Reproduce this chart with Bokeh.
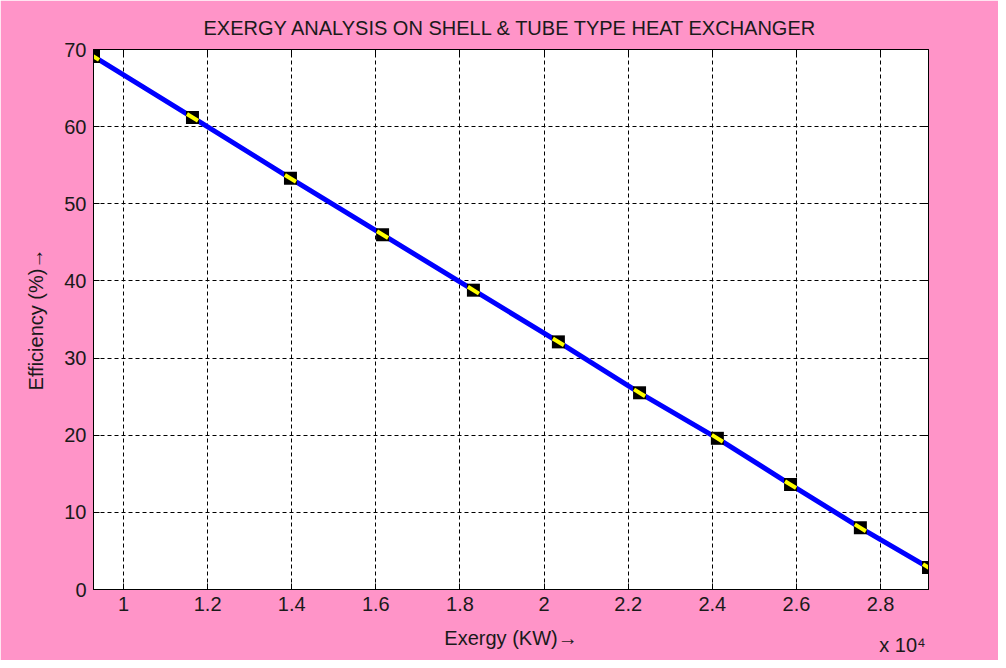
from bokeh.plotting import figure
from bokeh.models import ColumnDataSource, Range1d, LinearAxis, FixedTicker
from bokeh.embed import file_html
from bokeh.resources import INLINE

# Data (Exergy in KW, Efficiency in %)
exergy = [9287, 11640, 13970, 16160, 18320, 20340, 22270, 24120, 25860, 27520, 29140]
efficiency = [69.1, 61.2, 53.3, 46.0, 38.8, 32.1, 25.5, 19.6, 13.6, 8.0, 2.85]
x_ticks = [10000, 12000, 14000, 16000, 18000, 20000, 22000, 24000, 26000, 28000]
x_tick_labels = ["1", "1.2", "1.4", "1.6", "1.8", "2", "2.2", "2.4", "2.6", "2.8"]
y_ticks = [0, 10, 20, 30, 40, 50, 60, 70]
multiplier_pos = [28520]
multiplier_text = ["x 10\u2074"]

PINK = "#ff94c8"
FONT = "Liberation Sans"
TXT = "#1a1a1a"
FS = "20px"

src = ColumnDataSource(dict(x=exergy, y=efficiency))
ends = ColumnDataSource(dict(x=[exergy[0], exergy[-1]], y=[efficiency[0], efficiency[-1]]))

p = figure(width=998, height=660, output_backend="svg", toolbar_location=None,
           x_range=Range1d(exergy[0], exergy[-1]), y_range=Range1d(0, 70),
           background_fill_color="white", border_fill_color=PINK,
           min_border_left=93, min_border_right=70, min_border_top=49, min_border_bottom=71,
           styles={"box-shadow": "-2px -2px 0 0 black"})

p.title.text = "EXERGY ANALYSIS ON SHELL & TUBE TYPE HEAT EXCHANGER"
p.title.text_font = FONT
p.title.text_font_size = FS
p.title.text_font_style = "normal"
p.title.text_color = TXT
p.title.align = "center"
p.title.standoff = 22

p.outline_line_color = "black"
p.outline_line_width = 1

for ax in (p.xaxis[0], p.yaxis[0]):
    ax.major_label_text_font = FONT
    ax.major_label_text_font_size = FS
    ax.major_label_text_color = TXT
    ax.axis_label_text_font = FONT
    ax.axis_label_text_font_size = FS
    ax.axis_label_text_font_style = "normal"
    ax.axis_label_text_color = TXT
    ax.major_tick_in = 6
    ax.major_tick_out = 0
    ax.minor_tick_line_color = None
    ax.axis_line_color = "black"
    ax.major_label_standoff = 7

p.xaxis.ticker = FixedTicker(ticks=x_ticks)
p.xaxis.major_label_overrides = {t: l for t, l in zip(x_ticks, x_tick_labels)}
p.yaxis.ticker = FixedTicker(ticks=y_ticks)
p.xaxis.axis_label = "Exergy (KW)\u2192"
p.yaxis.axis_label = "Efficiency (%)\u2192"
p.xaxis.axis_label_standoff = 13
p.yaxis.axis_label_standoff = 14

# multiplier "x 10^4" as an extra, line-less bottom axis
mult = LinearAxis(ticker=FixedTicker(ticks=multiplier_pos),
                  major_label_overrides={t: s for t, s in zip(multiplier_pos, multiplier_text)},
                  major_tick_in=0, major_tick_out=0, minor_tick_line_color=None,
                  axis_line_color=None, major_tick_line_color=None,
                  major_label_text_font=FONT, major_label_text_font_size=FS,
                  major_label_text_color=TXT, major_label_standoff=-18)
p.add_layout(mult, "below")

# box axes (top & right) with inward ticks, no labels
top = LinearAxis(ticker=FixedTicker(ticks=[], minor_ticks=x_ticks), major_tick_in=0, major_tick_out=0,
                 minor_tick_in=6, minor_tick_out=0, minor_tick_line_color="black")
right = LinearAxis(ticker=FixedTicker(ticks=[], minor_ticks=y_ticks), major_tick_in=0, major_tick_out=0,
                   minor_tick_in=6, minor_tick_out=0, minor_tick_line_color="black")
p.add_layout(top, "above")
p.add_layout(right, "right")

p.xgrid.ticker = FixedTicker(ticks=x_ticks)
p.ygrid.ticker = FixedTicker(ticks=y_ticks)
for g in (p.xgrid[0], p.ygrid[0]):
    g.grid_line_color = "black"
    g.grid_line_dash = "4 3"
    g.grid_line_width = 1
    g.grid_line_alpha = 1.0

p.line("x", "y", source=src, line_color="#0000ff", line_width=5)
p.scatter("x", "y", source=ends, marker="square", size=13, fill_color="#007a3d", line_color=None)
p.scatter("x", "y", source=src, marker="square", size=13, fill_color="black", line_color=None)
p.scatter("x", "y", source=src, marker="dash", size=13, angle=-0.55, line_color="#ffff00", line_width=4)

open("out.html", "w").write(file_html(p, INLINE))
